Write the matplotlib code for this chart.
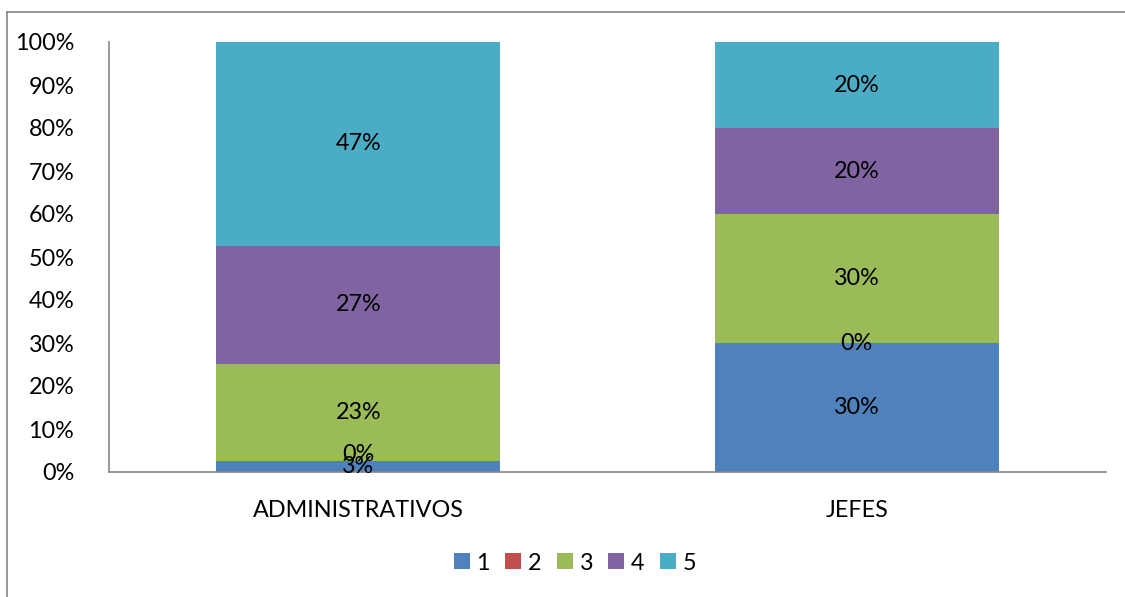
import matplotlib
matplotlib.use("Agg")
import matplotlib.pyplot as plt
from matplotlib.lines import Line2D
from matplotlib.ticker import PercentFormatter
import numpy as np

categories = ["ADMINISTRATIVOS", "JEFES"]
series_names = ["1", "2", "3", "4", "5"]
series_values = {
    "1": [2.6, 30.0],
    "2": [0.0, 0.0],
    "3": [22.6, 30.0],
    "4": [27.4, 20.0],
    "5": [47.4, 20.0],
}
colors = ["#4F81BD", "#C0504D", "#9BBB59", "#8064A2", "#4BACC6"]

plt.rcParams['font.family'] = ['Lato', 'DejaVu Sans']
FS = 16.8

W, H = 1125, 597
fig = plt.figure(figsize=(W / 100, H / 100), dpi=100)
ax = fig.add_axes([109 / W, 1 - 472 / H, (1106 - 109) / W, (472 - 42) / H])

x = np.arange(len(categories))
bottom = np.zeros(len(categories))
prev_vals = np.full(len(categories), 100.0)
handles = []
for name, c in zip(series_names, colors):
    vals = np.array(series_values[name])
    bars = ax.bar(x, vals, 0.57, bottom=bottom, color=c, label=name, zorder=2)
    handles.append(bars)
    for xi, v, b, pv in zip(x, vals, bottom, prev_vals):
        yy = b + v / 2
        # zero segment sitting on a very thin one: lift the label a little
        if v == 0 and pv < 5:
            yy += 1.4
        ax.text(xi, yy, f"{v:.0f}%", ha="center", va="center",
                fontsize=FS, color="#000000", zorder=3)
    bottom = bottom + vals
    prev_vals = np.where(vals > 0, vals, prev_vals)

ax.set_xlim(-0.5, 1.5)
ax.set_ylim(0, 100)
ax.set_yticks(np.arange(0, 101, 10))
ax.yaxis.set_major_formatter(PercentFormatter(decimals=0))
ax.set_xticks(x)
ax.set_xticklabels(categories)
ax.tick_params(axis="both", length=0, labelsize=FS, colors="#000000")
ax.tick_params(axis="y", pad=25)
ax.tick_params(axis="x", pad=20)
for s in ["top", "right"]:
    ax.spines[s].set_visible(False)
for s in ["left", "bottom"]:
    ax.spines[s].set_color("#868686")
    ax.spines[s].set_linewidth(1.2)

leg = fig.legend(handles=handles, labels=series_names, loc="center",
                 bbox_to_anchor=(575 / W, 1 - 563 / H), ncol=5, frameon=False,
                 fontsize=FS, handlelength=0.68, handleheight=0.68,
                 handletextpad=0.3, columnspacing=0.65)

# chart area border (left and top visible)
fig.add_artist(Line2D([7 / W, 7 / W], [0, 1 - 12 / H], transform=fig.transFigure,
                      color="#868686", lw=1.2))
fig.add_artist(Line2D([7 / W, 1], [1 - 12 / H, 1 - 12 / H], transform=fig.transFigure,
                      color="#868686", lw=1.2))

fig.savefig("out.png", dpi=100)
